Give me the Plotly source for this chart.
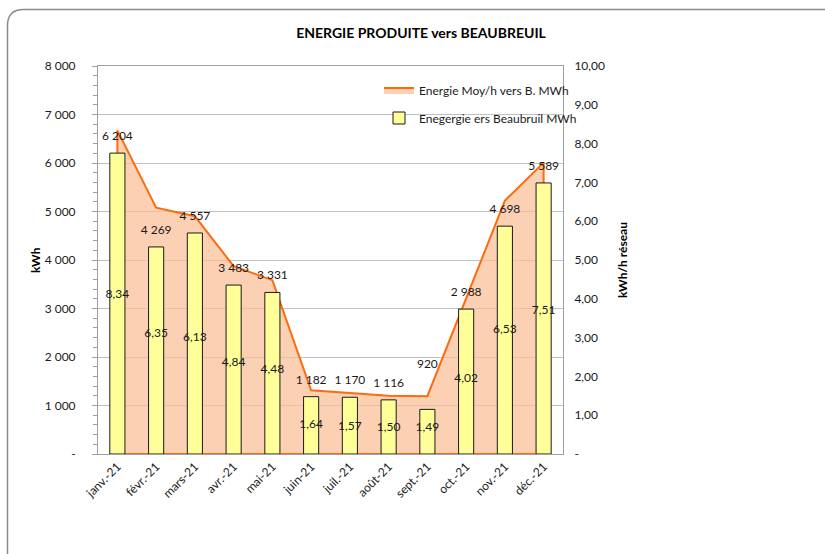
import plotly.graph_objects as go

months = ["janv.-21", "févr.-21", "mars-21", "avr.-21", "mai-21", "juin-21",
          "juil.-21", "août-21", "sept.-21", "oct.-21", "nov.-21", "déc.-21"]
energie_mwh = [6204, 4269, 4557, 3483, 3331, 1182, 1170, 1116, 920, 2988, 4698, 5589]
moy_h = [8.34, 6.35, 6.13, 4.84, 4.48, 1.64, 1.57, 1.50, 1.49, 4.02, 6.53, 7.51]

left_ticks = [0, 1000, 2000, 3000, 4000, 5000, 6000, 7000, 8000]
left_labels = ["-", "1 000", "2 000", "3 000", "4 000", "5 000", "6 000", "7 000", "8 000"]
right_ticks = [0, 1, 2, 3, 4, 5, 6, 7, 8, 9, 10]
right_labels = ["-", "1,00", "2,00", "3,00", "4,00", "5,00", "6,00", "7,00", "8,00", "9,00", "10,00"]

FONT = "Lato, 'Open Sans', sans-serif"
W, H = 825, 554
L, R, T, B = 98, 563, 66, 454
Y2MAX, YMAX = 8000, 10
UNITS_PER_PX = Y2MAX / (B - T)

# label placement style (pixels above bar top); the september label sits higher
LABEL_GAP_PX = 16
LABEL_GAP_OVERRIDE = {8: 44}

def px(x):
    return (x - L) / (R - L)

def py(y):
    return (B - y) / (B - T)

fig = go.Figure()

# area (primary y, right side, drawn below the bars)
ax = [months[0]] + months + [months[-1], months[0]]
ay = [0] + moy_h + [0, 0]
fig.add_trace(go.Scatter(
    x=ax, y=ay, mode="lines", fill="toself",
    fillcolor="rgba(250,190,150,0.72)",
    line=dict(color="#FF6A0D", width=2),
    name="Energie Moy/h vers B. MWh", yaxis="y", legend="legend",
    hoverinfo="skip"))

# bars (overlay y2, left side)
fig.add_trace(go.Bar(
    x=months, y=energie_mwh, yaxis="y2", width=0.39,
    marker=dict(color="#FFFF99", line=dict(color="#1a1a1a", width=1)),
    name="Enegergie ers Beaubruil MWh", legend="legend2", hoverinfo="x+y"))

# bar value labels
label_y = [v + LABEL_GAP_OVERRIDE.get(i, LABEL_GAP_PX) * UNITS_PER_PX
           for i, v in enumerate(energie_mwh)]
fig.add_trace(go.Scatter(
    x=months, y=label_y, mode="text", yaxis="y2",
    text=[f"{v:,}".replace(",", " ") for v in energie_mwh],
    textfont=dict(family=FONT, size=12, color="#1a1a1a"),
    showlegend=False, cliponaxis=False, hoverinfo="skip"))

# area value labels (half height of the area, drawn above bars)
fig.add_trace(go.Scatter(
    x=months, y=[v / 2 * Y2MAX / YMAX - 3 * UNITS_PER_PX for v in moy_h],
    mode="text", yaxis="y2",
    text=[f"{v:.2f}".replace(".", ",") for v in moy_h],
    textfont=dict(family=FONT, size=12, color="#1a1a1a"),
    showlegend=False, cliponaxis=False, hoverinfo="skip"))

fig.update_layout(
    width=W, height=H,
    margin=dict(l=L, r=W - R, t=T, b=H - B),
    paper_bgcolor="white", plot_bgcolor="rgba(0,0,0,0)",
    font=dict(family=FONT, size=12, color="#1a1a1a"),
    title=dict(text="<b>ENERGIE PRODUITE vers BEAUBREUIL</b>",
               x=421 / W, xref="container", xanchor="center",
               y=1 - 33 / H, yref="container", yanchor="middle",
               font=dict(family=FONT, size=14, color="#000")),
    xaxis=dict(type="category", range=[-0.5, 11.5], tickangle=-45,
               showline=True, linecolor="#a0a0a0", mirror=True,
               ticks="", showgrid=False,
               tickfont=dict(family=FONT, size=12, color="#1a1a1a")),
    yaxis=dict(side="right", range=[0, YMAX], tickvals=right_ticks, ticktext=right_labels,
               showgrid=False, zeroline=False, showline=True, linecolor="#a0a0a0",
               ticks="", ticklabelstandoff=8,
               tickfont=dict(family=FONT, size=12, color="#1a1a1a")),
    yaxis2=dict(side="left", overlaying="y", range=[0, Y2MAX],
                tickvals=left_ticks, ticktext=left_labels,
                showgrid=True, gridcolor="#c0c0c0", gridwidth=1, zeroline=False,
                showline=True, linecolor="#a0a0a0",
                ticks="outside", ticklen=5, tickcolor="#a0a0a0", ticklabelstandoff=14,
                minor=dict(dtick=200, ticks="outside", ticklen=4, tickcolor="#a0a0a0", showgrid=False),
                tickfont=dict(family=FONT, size=12, color="#1a1a1a")),
    legend=dict(x=px(379), y=py(90), xanchor="left", yanchor="middle",
                bgcolor="rgba(0,0,0,0)", font=dict(family=FONT, size=12, color="#1a1a1a"),
                itemwidth=30),
    legend2=dict(x=px(379), y=py(118), xanchor="left", yanchor="middle",
                 bgcolor="rgba(0,0,0,0)", font=dict(family=FONT, size=12, color="#1a1a1a"),
                 itemwidth=30),
    showlegend=True,
)

# axis titles
fig.add_annotation(text="<b>kWh</b>", x=px(35), y=py(260), xref="paper", yref="paper",
                   xanchor="center", yanchor="middle",
                   textangle=-90, showarrow=False, font=dict(family=FONT, size=12, color="#000"))
fig.add_annotation(text="<b>kWh/h réseau</b>", x=px(622), y=py(260), xref="paper", yref="paper",
                   xanchor="center", yanchor="middle",
                   textangle=-90, showarrow=False, font=dict(family=FONT, size=12, color="#000"))

# rounded outer frame
x0, y0, r = 7.5, 9.5, 16
path = (f"M {px(x0)},{py(H + 5)} L {px(x0)},{py(y0 + r)} "
        f"Q {px(x0)},{py(y0)} {px(x0 + r)},{py(y0)} L {px(W + 5)},{py(y0)}")
fig.add_shape(type="path", path=path, xref="paper", yref="paper",
              line=dict(color="#8c8c8c", width=1.5), layer="above")

fig.write_html("out.html", config={"displayModeBar": False},
               post_script="document.body.style.margin='0';document.body.style.overflow='hidden';")
